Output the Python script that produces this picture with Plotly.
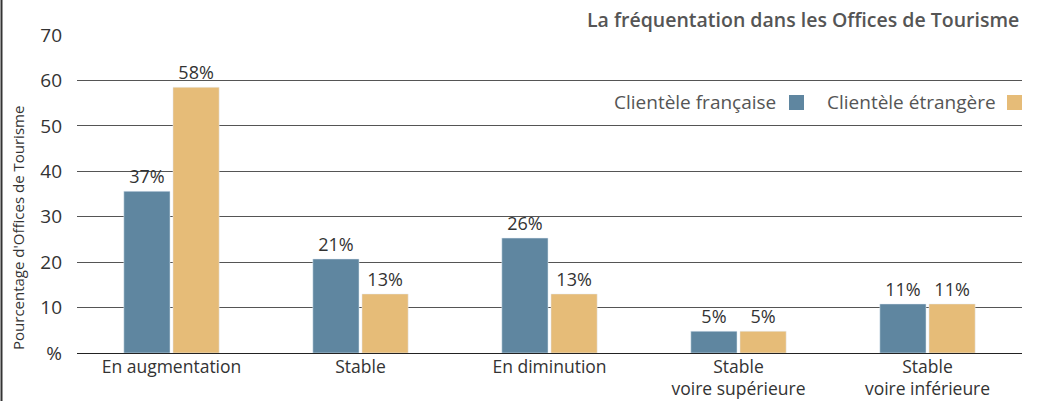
import plotly.graph_objects as go

categories = ["En augmentation", "Stable", "En diminution",
              "Stable<br>voire supérieure", "Stable<br>voire inférieure"]
francaise_values = [35.6, 20.7, 25.3, 4.8, 10.8]
etrangere_values = [58.5, 13.0, 13.0, 4.8, 10.8]
francaise_labels = ["37%", "21%", "26%", "5%", "11%"]
etrangere_labels = ["58%", "13%", "13%", "5%", "11%"]
tick_values = [0, 10, 20, 30, 40, 50, 60, 70]
tick_labels = ["%", "10", "20", "30", "40", "50", "60", "70"]

BLUE = "#5f86a0"
ORANGE = "#e6bc78"
FONT = "Open Sans, Noto Sans, sans-serif"

fig = go.Figure()
fig.add_trace(go.Bar(x=categories, y=francaise_values, text=francaise_labels,
                     textposition="outside", marker_color=BLUE, name="Clientèle française",
                     textfont=dict(size=18, color="#333", family=FONT), cliponaxis=False))
fig.add_trace(go.Bar(x=categories, y=etrangere_values, text=etrangere_labels,
                     textposition="outside", marker_color=ORANGE, name="Clientèle étrangère",
                     textfont=dict(size=18, color="#333", family=FONT), cliponaxis=False))

W, H = 1037, 401
L, R, T, B = 77, 15, 35, 48
pw, ph = W - L - R, H - T - B

def px(x):
    return (x - L) / pw

def py(y):
    return (H - B - y) / ph

fig.update_layout(
    width=W, height=H, autosize=False,
    margin=dict(l=L, r=R, t=T, b=B, pad=0),
    paper_bgcolor="white", plot_bgcolor="white",
    barmode="group", bargap=0.48, bargroupgap=0.06,
    showlegend=False,
    font=dict(family=FONT, color="#333"),
    xaxis=dict(showgrid=False, showline=False, ticks="", automargin=False,
               ticklabelstandoff=1,
               tickfont=dict(size=17.5, color="#333", family=FONT)),
    yaxis=dict(range=[0, 70], tickvals=tick_values, ticktext=tick_labels,
               showgrid=True, gridcolor="#555", gridwidth=1, automargin=False,
               zeroline=True, zerolinecolor="#222", zerolinewidth=1,
               ticks="", ticklabelstandoff=14,
               tickfont=dict(size=19, color="#333", family=FONT)),
)

annotations = [
    dict(text="La fréquentation dans les Offices de Tourisme",
         x=px(1021), y=py(20), xref="paper", yref="paper", xanchor="right", yanchor="middle",
         showarrow=False, font=dict(size=19.5, color="#555", family=FONT, weight=600)),
    dict(text="Clientèle française", x=px(778), y=py(102), xref="paper", yref="paper",
         xanchor="right", yanchor="middle", showarrow=False,
         font=dict(size=19, color="#555", family=FONT)),
    dict(text="Clientèle étrangère", x=px(998), y=py(102), xref="paper", yref="paper",
         xanchor="right", yanchor="middle", showarrow=False,
         font=dict(size=19, color="#555", family=FONT)),
    dict(text="Pourcentage d'Offices de Tourisme", x=px(18), y=py(228), xref="paper",
         yref="paper", xanchor="center", yanchor="middle", textangle=-90, showarrow=False,
         font=dict(size=15, color="#333", family=FONT)),
]
fig.update_layout(annotations=annotations)

shapes = [
    dict(type="rect", xref="paper", yref="paper", x0=px(789), x1=px(804), y0=py(95), y1=py(110),
         fillcolor=BLUE, line=dict(width=0)),
    dict(type="rect", xref="paper", yref="paper", x0=px(1007), x1=px(1022), y0=py(95), y1=py(110),
         fillcolor=ORANGE, line=dict(width=0)),
    dict(type="line", xref="paper", yref="paper", x0=px(1.5), x1=px(1.5), y0=py(0), y1=py(H),
         line=dict(color="#333", width=2)),
]
fig.update_layout(shapes=shapes)

post = ("document.body.style.margin='0';document.body.style.overflow='hidden';"
        "var gd=document.getElementById('{plot_id}');"
        "Plotly.relayout(gd,{width:1037,height:401});")
fig.write_html("out.html", config={"responsive": False, "displayModeBar": False},
               post_script=post)
